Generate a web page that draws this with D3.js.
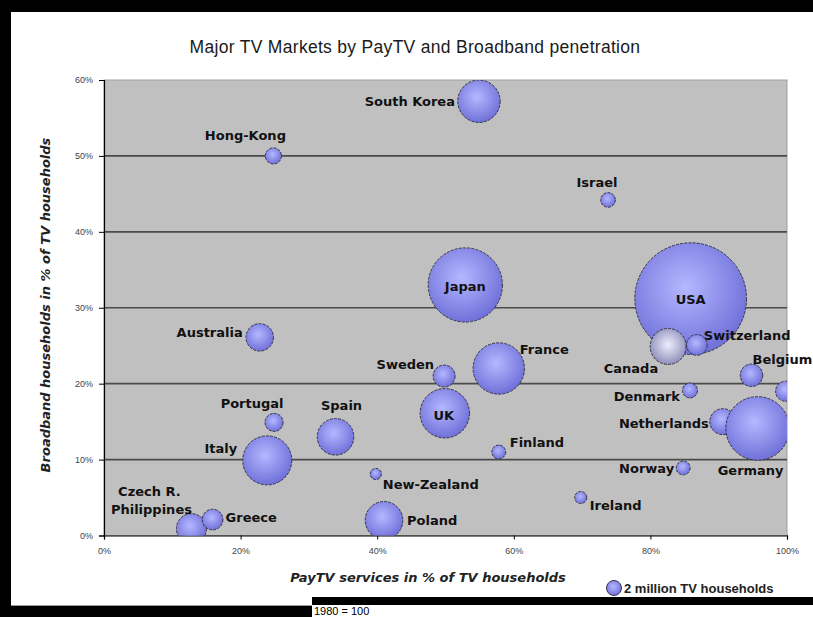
<!DOCTYPE html>
<html>
<head>
<meta charset="utf-8">
<script src="https://cdn.jsdelivr.net/npm/d3@7.9.0/dist/d3.min.js"></script>
<style>
  body { margin: 0; background: #fff; }
  svg { display: block; }
</style>
</head>
<body>
<svg id="chart"></svg>
<script>
// data (shares as fractions, TV households in millions)
const countries = ["USA", "Canada", "Switzerland", "South Korea", "Hong-Kong", "Israel", "Japan",
  "Australia", "France", "Sweden", "Belgium", "", "Denmark", "Netherlands", "Germany", "UK",
  "Finland", "Norway", "New-Zealand", "Ireland", "Poland", "Spain", "Italy", "Portugal",
  "Czech R.", "Philippines", "Greece"];
const payTV = [0.859, 0.826, 0.868, 0.549, 0.248, 0.738, 0.529,
  0.228, 0.578, 0.498, 0.948, 0.998, 0.858, 0.906, 0.957, 0.499,
  0.578, 0.848, 0.398, 0.698, 0.410, 0.339, 0.239, 0.249,
  0.128, 0.128, 0.159];
const broadband = [0.312, 0.249, 0.251, 0.572, 0.500, 0.442, 0.330,
  0.261, 0.220, 0.210, 0.211, 0.190, 0.191, 0.150, 0.141, 0.161,
  0.110, 0.089, 0.081, 0.050, 0.020, 0.130, 0.099, 0.149,
  0.009, 0.009, 0.021];
const households = [111, 11.5, 3.8, 16, 2.3, 1.9, 49,
  6.7, 23.5, 4.3, 4.5, 3.6, 2.0, 6.0, 36, 21.7,
  1.7, 1.7, 1.1, 1.3, 12.6, 11.9, 21.4, 2.9,
  3.5, 8.0, 3.8];
const xTicks = [0, 0.2, 0.4, 0.6, 0.8, 1];
const yTicks = [0, 0.1, 0.2, 0.3, 0.4, 0.5, 0.6];
const legendValue = 2;

// label placement: offset from bubble centre in px and text anchor
const labelPlace = {
  "USA": [0, 1, "middle"], "Canada": [-10, 22, "end"], "Switzerland": [7, -9, "start"],
  "South Korea": [-24, 0, "end"], "Hong-Kong": [-28, -20, "middle"], "Israel": [-11, -17, "middle"],
  "Japan": [0, 1, "middle"], "Australia": [-17, -5, "end"], "France": [21, -19, "start"],
  "Sweden": [-10, -12, "end"], "Belgium": [1, -16, "start"], "Denmark": [-10, 6, "end"],
  "Netherlands": [-14, 2, "end"], "Germany": [-7, 42, "middle"], "UK": [-1, 2, "middle"],
  "Finland": [11, -10, "start"], "Norway": [-9, 1, "end"], "New-Zealand": [7, 10, "start"],
  "Ireland": [9, 8, "start"], "Poland": [23, 0, "start"], "Spain": [6, -31, "middle"],
  "Italy": [-30, -12, "end"], "Portugal": [-22, -19, "middle"], "Czech R.": [-42, -37, "middle"],
  "Philippines": [-40, -19, "middle"], "Greece": [13, -2, "start"]
};

const data = countries.map((c, i) => ({
  name: c, x: payTV[i], y: broadband[i], v: households[i]
}));

const W = 813, H = 617;
const plot = { left: 104, right: 787, top: 80, bottom: 535.5 };

const svg = d3.select("#chart").attr("width", W).attr("height", H);

// frame bits of the screenshot
svg.append("rect").attr("x", 0).attr("y", 0).attr("width", W).attr("height", 12).attr("fill", "#000");
svg.append("rect").attr("x", 0).attr("y", 0).attr("width", 11).attr("height", H).attr("fill", "#000");
svg.append("rect").attr("x", 0).attr("y", 606).attr("width", 312).attr("height", 11).attr("fill", "#000");
svg.append("rect").attr("x", 312).attr("y", 597).attr("width", W - 312).attr("height", 8).attr("fill", "#000");
svg.append("line").attr("x1", 11).attr("x2", 312).attr("y1", 605.5).attr("y2", 605.5)
  .attr("stroke", "#999").attr("stroke-width", 1);
svg.append("text").attr("x", 314).attr("y", 615)
  .attr("font-family", "Liberation Sans, Arial, sans-serif").attr("font-size", 11)
  .style("fill", "#000").text("1980 = 100");

const x = d3.scaleLinear().domain([0, 1]).range([plot.left, plot.right]);
const y = d3.scaleLinear().domain([0, 0.6]).range([plot.bottom, plot.top]);
const r = d3.scaleSqrt().domain([0, 1]).range([0, 5.3]);

const defs = svg.append("defs");
const grad = defs.append("radialGradient").attr("id", "blue")
  .attr("cx", "45%").attr("cy", "40%").attr("r", "62%");
grad.append("stop").attr("offset", "0%").attr("stop-color", "#b4b8ff");
grad.append("stop").attr("offset", "100%").attr("stop-color", "#6e6ed8");
const grad2 = defs.append("radialGradient").attr("id", "pale")
  .attr("cx", "50%").attr("cy", "45%").attr("r", "60%");
grad2.append("stop").attr("offset", "0%").attr("stop-color", "#eeeeff");
grad2.append("stop").attr("offset", "100%").attr("stop-color", "#8686b4");
defs.append("clipPath").attr("id", "clip").append("rect")
  .attr("x", plot.left).attr("y", plot.top)
  .attr("width", plot.right - plot.left).attr("height", plot.bottom - plot.top);

// plot background
svg.append("rect").attr("x", plot.left).attr("y", plot.top)
  .attr("width", plot.right - plot.left).attr("height", plot.bottom - plot.top)
  .attr("fill", "#c0c0c0").attr("stroke", "#a0a0a0").attr("stroke-width", 1);

// gridlines
svg.append("g").selectAll("line")
  .data(yTicks.filter(t => t > 0 && t < 0.6))
  .join("line")
  .attr("x1", plot.left).attr("x2", plot.right)
  .attr("y1", d => y(d)).attr("y2", d => y(d))
  .attr("stroke", "#4a4a4a").attr("stroke-width", 1.6);

// axes
const fmt = d3.format(".0%");
const yAxis = svg.append("g").attr("transform", `translate(${plot.left},0)`)
  .call(d3.axisLeft(y).tickValues(yTicks).tickFormat(fmt).tickSize(5).tickPadding(6));
const xAxis = svg.append("g").attr("transform", `translate(0,${plot.bottom})`)
  .call(d3.axisBottom(x).tickValues(xTicks).tickFormat(fmt).tickSize(4).tickPadding(8));
[yAxis, xAxis].forEach(a => {
  a.select(".domain").attr("stroke", "#000").attr("stroke-width", 1.2);
  a.selectAll(".tick line").attr("stroke", "#000");
  a.selectAll(".tick text").attr("font-family", "Liberation Sans, Arial, sans-serif")
    .attr("font-size", 9).attr("fill", "#444");
});

// bubbles
svg.append("g").attr("clip-path", "url(#clip)")
  .selectAll("circle")
  .data(data)
  .join("circle")
  .attr("cx", d => x(d.x))
  .attr("cy", d => y(d.y))
  .attr("r", d => r(d.v))
  .attr("fill", d => d.name === "Canada" ? "url(#pale)" : "url(#blue)")
  .attr("stroke", "#34344a")
  .attr("stroke-width", 1)
  .attr("stroke-dasharray", "3,1.2");

// labels
svg.append("g").selectAll("text")
  .data(data.filter(d => labelPlace[d.name]))
  .join("text")
  .attr("x", d => x(d.x) + labelPlace[d.name][0])
  .attr("y", d => y(d.y) + labelPlace[d.name][1])
  .attr("dy", "0.35em")
  .attr("text-anchor", d => labelPlace[d.name][2])
  .attr("font-family", "DejaVu Sans, Verdana, sans-serif")
  .attr("font-weight", "bold")
  .attr("font-size", 13)
  .attr("fill", "#111")
  .text(d => d.name);

// title and axis titles
svg.append("text").attr("x", 415).attr("y", 53).attr("text-anchor", "middle")
  .attr("font-family", "Liberation Sans, Arial, sans-serif").attr("font-size", 17.5)
  .attr("fill", "#1a1a1a").attr("letter-spacing", 0.3)
  .text("Major TV Markets by PayTV and Broadband penetration");

svg.append("text").attr("x", 428).attr("y", 582).attr("text-anchor", "middle")
  .attr("font-family", "DejaVu Sans, Verdana, sans-serif").attr("font-size", 13)
  .attr("font-weight", "bold").attr("font-style", "italic").attr("fill", "#222")
  .text("PayTV services in % of TV households");

svg.append("text").attr("transform", "translate(50,305) rotate(-90)").attr("text-anchor", "middle")
  .attr("font-family", "DejaVu Sans, Verdana, sans-serif").attr("font-size", 13)
  .attr("font-weight", "bold").attr("font-style", "italic").attr("fill", "#222")
  .text("Broadband households in % of TV households");

// legend
svg.append("circle").attr("cx", 614).attr("cy", 588).attr("r", r(legendValue))
  .attr("fill", "url(#blue)").attr("stroke", "#34344a").attr("stroke-width", 1);
svg.append("text").attr("x", 624).attr("y", 588).attr("dy", "0.35em")
  .attr("font-family", "Liberation Sans, Arial, sans-serif").attr("font-size", 13)
  .attr("font-weight", "bold").attr("fill", "#222")
  .text(legendValue + " million TV households");
</script>
</body>
</html>
